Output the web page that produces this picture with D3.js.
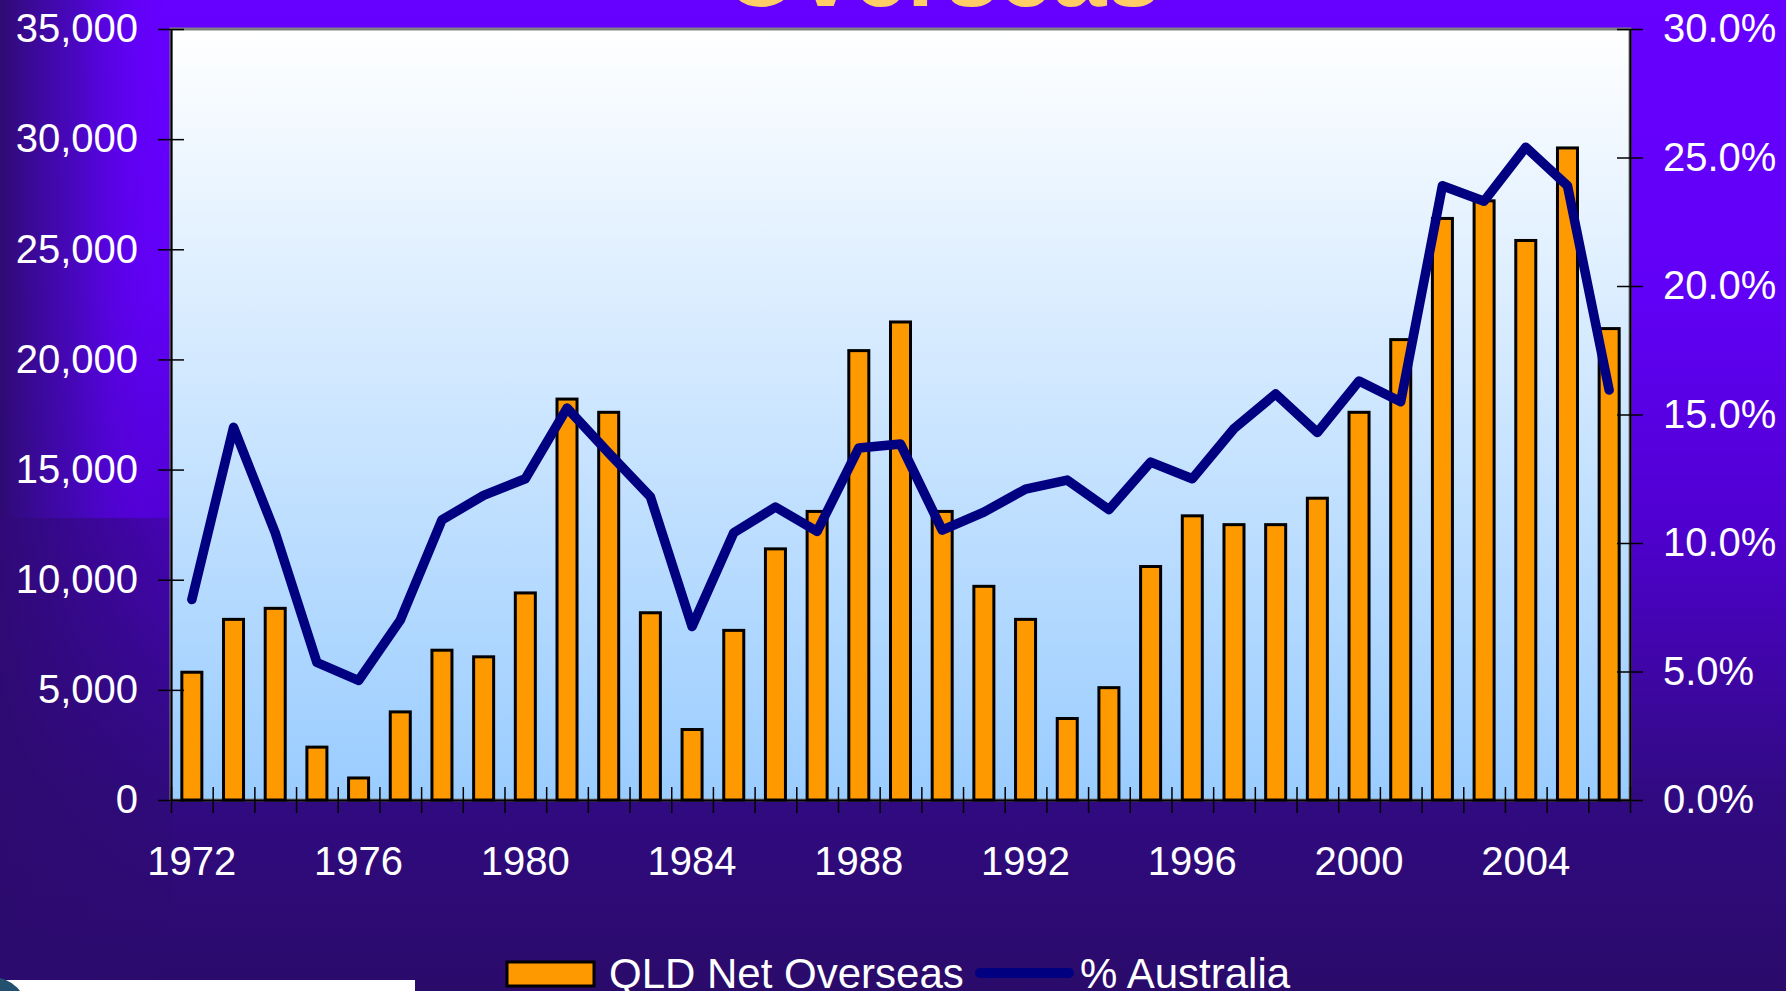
<!DOCTYPE html>
<html>
<head>
<meta charset="utf-8">
<script src="https://cdn.jsdelivr.net/npm/d3@7"></script>
<style>
  html, body { margin: 0; padding: 0; background: #2a0b6a; overflow: hidden; }
  svg { display: block; font-family: "Liberation Sans", Arial, sans-serif; }
</style>
</head>
<body>
<svg></svg>
<script>
let width = 1786, height = 991;

// data
let years = [1972, 1973, 1974, 1975, 1976, 1977, 1978, 1979, 1980, 1981, 1982, 1983,
    1984, 1985, 1986, 1987, 1988, 1989, 1990, 1991, 1992, 1993, 1994, 1995, 1996,
    1997, 1998, 1999, 2000, 2001, 2002, 2003, 2004, 2005, 2006];
let netOverseas = [5800, 8200, 8700, 2400, 1000, 4000, 6800, 6500, 9400, 18200, 17600, 8500,
    3200, 7700, 11400, 13100, 20400, 21700, 13100, 9700, 8200, 3700, 5100, 10600, 12900,
    12500, 12500, 13700, 17600, 20900, 26400, 27200, 25400, 29600, 21400];
let pctAustralia = [7.8, 14.5, 10.4, 5.35, 4.65, 7.0, 10.9, 11.85, 12.5, 15.25, 13.5, 11.8,
    6.75, 10.4, 11.4, 10.45, 13.7, 13.85, 10.5, 11.2, 12.1, 12.45, 11.3, 13.15, 12.5,
    14.45, 15.8, 14.3, 16.3, 15.5, 23.9, 23.3, 25.4, 23.9, 15.95];
let leftTicks = [0, 5000, 10000, 15000, 20000, 25000, 30000, 35000];
let rightTicks = [0, 5, 10, 15, 20, 25, 30];
let yearLabels = [1972, 1976, 1980, 1984, 1988, 1992, 1996, 2000, 2004];
let seriesNames = ["QLD Net Overseas", "% Australia"];
let titleText = "Overseas";

let plot = { left: 171, right: 1630, top: 29, bottom: 800 };

let svg = d3.select("svg")
    .attr("width", width)
    .attr("height", height);

let defs = svg.append("defs");

// slide background
let bg = defs.append("linearGradient").attr("id", "bg")
    .attr("x1", 0).attr("y1", 0).attr("x2", 0).attr("y2", 1);
[["0%", "#6600ff"], ["30%", "#6100f6"], ["52%", "#5000d2"], ["80%", "#310a82"], ["100%", "#2a0b6a"]]
    .forEach(s => bg.append("stop").attr("offset", s[0]).attr("stop-color", s[1]));

let sideTop = defs.append("linearGradient").attr("id", "sideTop");
sideTop.append("stop").attr("offset", "0%").attr("stop-color", "#2e0b72").attr("stop-opacity", 1);
sideTop.append("stop").attr("offset", "45%").attr("stop-color", "#3e0aa8").attr("stop-opacity", 0.7);
sideTop.append("stop").attr("offset", "100%").attr("stop-color", "#6600ff").attr("stop-opacity", 0);

let sideBot = defs.append("linearGradient").attr("id", "sideBot");
sideBot.append("stop").attr("offset", "0%").attr("stop-color", "#2c0b6e").attr("stop-opacity", 0.9);
sideBot.append("stop").attr("offset", "100%").attr("stop-color", "#2c0b6e").attr("stop-opacity", 0.3);

let plotBg = defs.append("linearGradient").attr("id", "plotBg")
    .attr("x1", 0).attr("y1", 0).attr("x2", 0).attr("y2", 1);
plotBg.append("stop").attr("offset", "0%").attr("stop-color", "#ffffff");
plotBg.append("stop").attr("offset", "100%").attr("stop-color", "#99ccff");

svg.append("rect").attr("width", width).attr("height", height).attr("fill", "url(#bg)");
svg.append("rect").attr("x", 0).attr("y", 0).attr("width", 172).attr("height", 518).attr("fill", "url(#sideTop)");
svg.append("rect").attr("x", 0).attr("y", 518).attr("width", 172).attr("height", 473).attr("fill", "url(#sideBot)");

// title (cut off at top of the slide)
svg.append("text")
    .attr("x", 942)
    .attr("y", 5.5)
    .attr("text-anchor", "middle")
    .style("font-size", "97px")
    .style("font-weight", "bold")
    .style("fill", "#ffcc66")
    .text(titleText);

// scales
let x = d3.scaleBand()
    .domain(years)
    .range([plot.left, plot.right]);

let xEdge = d3.scaleLinear()
    .domain([0, years.length])
    .range([plot.left, plot.right]);

let y = d3.scaleLinear()
    .domain([0, 35000])
    .range([plot.bottom, plot.top]);

let yR = d3.scaleLinear()
    .domain([0, 30])
    .range([plot.bottom, plot.top]);

// plot area
svg.append("rect")
    .attr("x", plot.left)
    .attr("y", plot.top)
    .attr("width", plot.right - plot.left)
    .attr("height", plot.bottom - plot.top)
    .attr("fill", "url(#plotBg)")
    .attr("stroke", "#808080")
    .attr("stroke-width", 3);

// bars
svg.append("g")
    .selectAll("rect")
    .data(years)
    .enter()
    .append("rect")
    .attr("x", d => x(d) + x.bandwidth() * 0.26)
    .attr("y", (d, i) => y(netOverseas[i]))
    .attr("width", x.bandwidth() * 0.48)
    .attr("height", (d, i) => y(0) - y(netOverseas[i]))
    .attr("fill", "#ff9900")
    .attr("stroke", "#000")
    .attr("stroke-width", 3);

// line
let line = d3.line()
    .x((d, i) => x(years[i]) + x.bandwidth() / 2)
    .y(d => yR(d));

svg.append("path")
    .datum(pctAustralia)
    .attr("d", line)
    .attr("fill", "none")
    .attr("stroke", "#000080")
    .attr("stroke-width", 9.5)
    .attr("stroke-linejoin", "round")
    .attr("stroke-linecap", "round");

// axes
function styleAxis(g, cross) {
    g.select(".domain").attr("stroke", "#000").attr("stroke-width", 2);
    g.selectAll(".tick line").attr("stroke", "#000").attr("stroke-width", 1.5);
    g.selectAll(".tick text")
        .style("font-size", "40px")
        .style("font-family", "'Liberation Sans', Arial, sans-serif")
        .attr("fill", "#fff");
    cross(g.selectAll(".tick line"));
}

let leftAxis = svg.append("g")
    .attr("transform", "translate(" + plot.left + ",0)")
    .call(d3.axisLeft(y).tickValues(leftTicks).tickFormat(d3.format(",")).tickSize(13).tickSizeOuter(0).tickPadding(20));
styleAxis(leftAxis, l => l.attr("x1", 13));

let rightAxis = svg.append("g")
    .attr("transform", "translate(" + plot.right + ",0)")
    .call(d3.axisRight(yR).tickValues(rightTicks).tickFormat(d => d.toFixed(1) + "%").tickSize(13).tickSizeOuter(0).tickPadding(20));
styleAxis(rightAxis, l => l.attr("x1", -13));

let edgeAxis = svg.append("g")
    .attr("transform", "translate(0," + plot.bottom + ")")
    .call(d3.axisBottom(xEdge).tickValues(d3.range(years.length + 1)).tickFormat("").tickSize(13).tickSizeOuter(0));
styleAxis(edgeAxis, l => l.attr("y1", -13));

let labelAxis = svg.append("g")
    .attr("transform", "translate(0," + plot.bottom + ")")
    .call(d3.axisBottom(x).tickValues(yearLabels).tickSize(0).tickPadding(47));
labelAxis.select(".domain").remove();
labelAxis.selectAll(".tick text")
    .style("font-size", "40px")
    .style("font-family", "'Liberation Sans', Arial, sans-serif")
    .attr("fill", "#fff");

// legend
let legend = svg.append("g").attr("id", "legend");
legend.append("rect")
    .attr("x", 507).attr("y", 962)
    .attr("width", 87).attr("height", 24)
    .attr("fill", "#ff9900")
    .attr("stroke", "#000")
    .attr("stroke-width", 3);
legend.append("text")
    .attr("x", 609).attr("y", 988)
    .style("font-size", "42px")
    .attr("fill", "#fff")
    .text(seriesNames[0]);
legend.append("line")
    .attr("x1", 980).attr("x2", 1069)
    .attr("y1", 973).attr("y2", 973)
    .attr("stroke", "#000080")
    .attr("stroke-width", 10)
    .attr("stroke-linecap", "round");
legend.append("text")
    .attr("x", 1080).attr("y", 988)
    .style("font-size", "42px")
    .attr("fill", "#fff")
    .text(seriesNames[1]);

// footer strip with logo edge
svg.append("rect")
    .attr("x", 0).attr("y", 980)
    .attr("width", 415).attr("height", 11)
    .attr("fill", "#fff");
svg.append("circle")
    .attr("cx", -8).attr("cy", 1012)
    .attr("r", 35)
    .attr("fill", "#23506e");
</script>
</body>
</html>
